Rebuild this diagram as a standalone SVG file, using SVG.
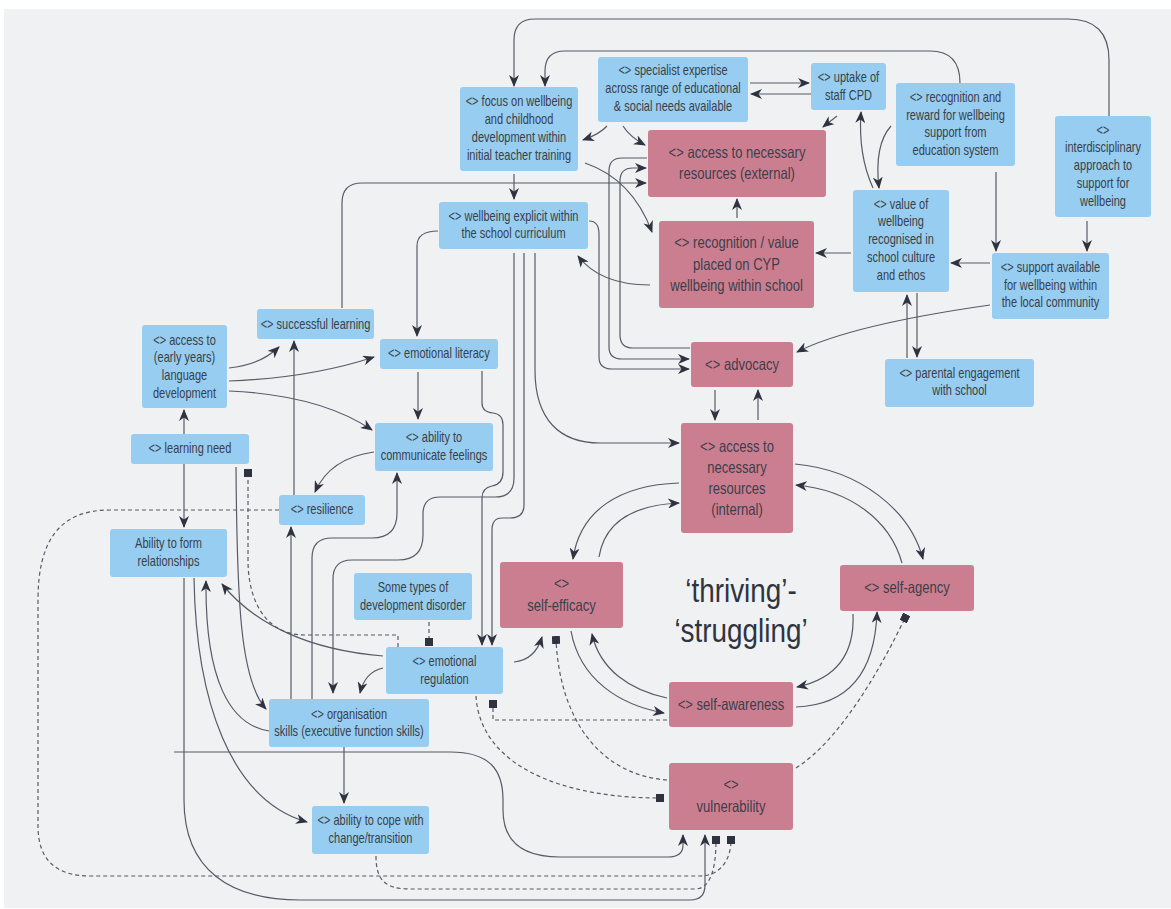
<svg xmlns="http://www.w3.org/2000/svg" width="1171" height="909" viewBox="0 0 1171 909">
<style>
.bg{fill:#f0f1f3}
.n rect{fill:#97cdf0}
.p rect{fill:#cc7e91}
text{font-family:"Liberation Sans",Arial,sans-serif;fill:#3b3f49;text-anchor:middle}
.n text{font-size:13.8px}
.p text{font-size:16.3px}
.big{font-size:34px;fill:#2f3440}
.c path{fill:none;stroke:#575b67;stroke-width:1.2}
.c path.a{marker-end:url(#ar)}
.c path.d{stroke-dasharray:4 3;marker-end:url(#sq)}
</style>
<defs>
<marker id="ar" viewBox="0 0 12 10" refX="11" refY="5" markerWidth="12" markerHeight="10" markerUnits="userSpaceOnUse" orient="auto"><path d="M0,0 L12,5 L0,10 L3.5,5 Z" fill="#2f3340"/></marker>
<marker id="sq" viewBox="0 0 8 8" refX="4" refY="4" markerWidth="8" markerHeight="8" markerUnits="userSpaceOnUse" orient="auto"><rect width="8" height="8" fill="#2f3340"/></marker>
</defs>
<rect class="bg" x="4" y="9" width="1167" height="899"/>

<g class="c" id="connectors">
<path class="a" d="M1109,116 V60 Q1109,19 1068,19 H535 Q514,19 514,40 V86"/>
<path class="a" d="M960,83 Q960,51 930,51 H565 Q545,51 545,71 V86"/>
<path class="a" d="M750,83 H809"/>
<path class="a" d="M811,94 H751"/>
<path class="a" d="M607,126 Q600,134 583,140"/>
<path class="a" d="M623,126 Q630,137 645,145"/>
<path class="a" d="M837,116 L823,127"/>
<path class="a" d="M873,188 Q858,155 861,112"/>
<path class="a" d="M891,126 Q874,145 879,188"/>
<path class="a" d="M996,172 V251"/>
<path class="a" d="M1087,221 V251"/>
<path class="a" d="M990,263 H951"/>
<path class="a" d="M851,253 H816"/>
<path class="a" d="M737,218 V199"/>
<path class="a" d="M650,285 Q600,285 578,256"/>
<path class="a" d="M585,163 C620,175 640,200 652,232"/>
<path class="a" d="M514,174 V199"/>
<path class="a" d="M342,308 V203 Q342,183 362,183 H646"/>
<path class="a" d="M647,158 H622 Q609,158 609,171 V347 Q609,359 622,359 H689"/>
<path class="a" d="M690,348 H633 Q620,348 620,335 V181 Q620,168 633,168 H646"/>
<path class="a" d="M589,221 Q599,221 599,234 V357 Q599,369 612,369 H689"/>
<path class="a" d="M535,253 V370 C535,420 560,443 600,443 H679"/>
<path class="a" d="M524,253 V505 Q524,518 510,518 H502 Q492,518 492,530 V645"/>
<path class="a" d="M482,371 V403 Q482,412 493,413 Q503,414 503,425 V472 Q503,484 492,486 Q482,488 482,498 V645"/>
<path class="a" d="M514,253 V478 Q514,497 495,497 H440 Q423,497 423,514 V535 Q423,560 398,560 H352 Q333,560 333,579 V693"/>
<path class="a" d="M312,699 V558 Q312,538 332,538 H372 Q397,538 397,513 V473"/>
<path class="a" d="M291,699 V527"/>
<path class="a" d="M294,495 V341"/>
<path class="a" d="M374,452 Q330,458 315,492"/>
<path class="a" d="M229,368 Q260,365 279,347"/>
<path class="a" d="M229,381 Q310,378 374,357"/>
<path class="a" d="M229,391 Q320,395 372,430"/>
<path class="a" d="M438,231 Q417,231 417,246 V336"/>
<path class="a" d="M418,372 V419"/>
<path class="a" d="M184,434 V410"/>
<path class="a" d="M184,464 V527"/>
<path class="a" d="M236,467 C237,600 240,680 266,709"/>
<path class="d" d="M398,647 V635 H305 C265,635 248,600 248,560 V473"/>
<path class="d" d="M429,622 V642"/>
<path class="a" d="M383,656 C310,650 255,625 222,584"/>
<path class="a" d="M383,668 Q365,672 360,693"/>
<path class="a" d="M269,731 C230,725 205,680 206,581"/>
<path class="a" d="M194,578 C196,700 230,800 307,822"/>
<path class="a" d="M184,578 V800 C184,870 230,900 300,900 H690 Q705,900 705,885 V835"/>
<path class="a" d="M174,752 H450 C490,752 503,770 503,800 V810 C503,840 520,857 560,857 H668 Q683,857 683,845 V835"/>
<path class="a" d="M344,747 V803"/>
<path class="d" d="M279,510 H110 C60,510 38,540 38,600 V826 Q38,876 90,876 H700 C720,876 731,860 731,840"/>
<path class="d" d="M376,856 C376,880 385,889 410,889 H695 C710,889 716,870 716,840"/>
<path class="a" d="M514,662 Q535,660 542,637"/>
<path class="d" d="M667,780 C600,775 560,720 556,640"/>
<path class="d" d="M476,696 C480,765 560,798 660,798"/>
<path class="d" d="M667,720 H493 V704"/>
<path class="a" d="M571,631 C580,680 620,705 664,713"/>
<path class="a" d="M667,698 C630,690 600,670 592,634"/>
<path class="a" d="M679,483 C620,485 580,510 573,559"/>
<path class="a" d="M599,557 C605,520 635,505 679,503"/>
<path class="a" d="M795,464 C860,470 910,510 923,559"/>
<path class="a" d="M902,563 C890,520 850,490 796,485"/>
<path class="a" d="M853,614 C855,660 830,680 797,687"/>
<path class="a" d="M796,707 C850,705 875,670 877,612"/>
<path class="d" d="M796,768 C840,740 880,670 905,618"/>
<path class="a" d="M715,390 V420"/>
<path class="a" d="M758,420 V390"/>
<path class="a" d="M990,305 C920,315 840,330 797,352"/>
<path class="a" d="M907,358 V295"/>
<path class="a" d="M917,293 V357"/>
</g>

<g class="n" id="focus"><rect x="460" y="87" width="118" height="84" rx="3"/><g transform="matrix(.8 0 0 1 519 0)"><text y="106.5">&lt;&gt; focus on wellbeing</text><text y="124">and childhood</text><text y="142">development within</text><text y="160">initial teacher training</text></g></g>
<g class="n" id="specialist"><rect x="598" y="57" width="150" height="65" rx="3"/><g transform="matrix(.8 0 0 1 673 0)"><text y="75.5">&lt;&gt; specialist expertise</text><text y="93.5">across range of educational</text><text y="111">&amp; social needs available</text></g></g>
<g class="p" id="external"><rect x="648" y="130" width="178" height="67" rx="3"/><g transform="matrix(.8 0 0 1 737 0)"><text y="158.5">&lt;&gt; access to necessary</text><text y="179">resources (external)</text></g></g>
<g class="p" id="recogvalue"><rect x="659" y="221" width="155" height="87" rx="3"/><g transform="matrix(.8 0 0 1 736.5 0)"><text y="248.5">&lt;&gt; recognition / value</text><text y="270">placed on CYP</text><text y="291">wellbeing within school</text></g></g>
<g class="n" id="uptake"><rect x="811" y="63" width="75" height="47" rx="3"/><g transform="matrix(.8 0 0 1 848.5 0)"><text y="82.5">&lt;&gt; uptake of</text><text y="100">staff CPD</text></g></g>
<g class="n" id="reward"><rect x="896" y="83" width="119" height="83" rx="3"/><g transform="matrix(.8 0 0 1 955.5 0)"><text y="102.5">&lt;&gt; recognition and</text><text y="120">reward for wellbeing</text><text y="137.5">support from</text><text y="155">education system</text></g></g>
<g class="n" id="interdisciplinary"><rect x="1055" y="116" width="96" height="101" rx="3"/><g transform="matrix(.8 0 0 1 1103 0)"><text y="135">&lt;&gt;</text><text y="152.5">interdisciplinary</text><text y="170.5">approach to</text><text y="188.5">support for</text><text y="206">wellbeing</text></g></g>
<g class="n" id="valueculture"><rect x="853" y="190" width="96" height="102" rx="3"/><g transform="matrix(.8 0 0 1 901 0)"><text y="209.5">&lt;&gt; value of</text><text y="226.5">wellbeing</text><text y="244.5">recognised in</text><text y="262.5">school culture</text><text y="280">and ethos</text></g></g>
<g class="n" id="support"><rect x="992" y="253" width="117" height="66" rx="3"/><g transform="matrix(.8 0 0 1 1050.5 0)"><text y="272.5">&lt;&gt; support available</text><text y="290">for wellbeing within</text><text y="307.5">the local community</text></g></g>
<g class="n" id="parental"><rect x="885" y="359" width="149" height="48" rx="3"/><g transform="matrix(.8 0 0 1 959.5 0)"><text y="378.5">&lt;&gt; parental engagement</text><text y="395.5">with school</text></g></g>
<g class="p" id="advocacy"><rect x="691" y="342" width="102" height="45" rx="3"/><g transform="matrix(.8 0 0 1 742 0)"><text y="370">&lt;&gt; advocacy</text></g></g>
<g class="p" id="internal"><rect x="681" y="423" width="112" height="110" rx="3"/><g transform="matrix(.8 0 0 1 737 0)"><text y="452">&lt;&gt; access to</text><text y="473.5">necessary</text><text y="494.5">resources</text><text y="515.5">(internal)</text></g></g>
<g class="n" id="curriculum"><rect x="439" y="202" width="149" height="47" rx="3"/><g transform="matrix(.8 0 0 1 513.5 0)"><text y="221">&lt;&gt; wellbeing explicit within</text><text y="238.5">the school curriculum</text></g></g>
<g class="n" id="successful"><rect x="257" y="309" width="117" height="30" rx="3"/><g transform="matrix(.8 0 0 1 315.5 0)"><text y="329">&lt;&gt; successful learning</text></g></g>
<g class="n" id="language"><rect x="142" y="325" width="85" height="83" rx="3"/><g transform="matrix(.8 0 0 1 184.5 0)"><text y="345">&lt;&gt; access to</text><text y="362.5">(early years)</text><text y="380.5">language</text><text y="398">development</text></g></g>
<g class="n" id="literacy"><rect x="380" y="339" width="118" height="30" rx="3"/><g transform="matrix(.8 0 0 1 439 0)"><text y="358.5">&lt;&gt; emotional literacy</text></g></g>
<g class="n" id="communicate"><rect x="375" y="423" width="118" height="48" rx="3"/><g transform="matrix(.8 0 0 1 434 0)"><text y="442.5">&lt;&gt; ability to</text><text y="460">communicate feelings</text></g></g>
<g class="n" id="learningneed"><rect x="131" y="434" width="118" height="30" rx="3"/><g transform="matrix(.8 0 0 1 190 0)"><text y="453.5">&lt;&gt; learning need</text></g></g>
<g class="n" id="resilience"><rect x="279" y="495" width="86" height="30" rx="3"/><g transform="matrix(.8 0 0 1 322 0)"><text y="514.5">&lt;&gt; resilience</text></g></g>
<g class="n" id="relationships"><rect x="110" y="529" width="117" height="48" rx="3"/><g transform="matrix(.8 0 0 1 168.5 0)"><text y="548.5">Ability to form</text><text y="566">relationships</text></g></g>
<g class="n" id="disorder"><rect x="354" y="573" width="118" height="47" rx="3"/><g transform="matrix(.8 0 0 1 413 0)"><text y="592.5">Some types of</text><text y="610">development disorder</text></g></g>
<g class="n" id="regulation"><rect x="386" y="647" width="117" height="47" rx="3"/><g transform="matrix(.8 0 0 1 444.5 0)"><text y="666.5">&lt;&gt; emotional</text><text y="684.5">regulation</text></g></g>
<g class="n" id="organisation"><rect x="269" y="699" width="160" height="48" rx="3"/><g transform="matrix(.8 0 0 1 349 0)"><text y="719">&lt;&gt; organisation</text><text y="736.5">skills (executive function skills)</text></g></g>
<g class="n" id="cope"><rect x="312" y="806" width="117" height="48" rx="3"/><g transform="matrix(.8 0 0 1 370.5 0)"><text y="825.5">&lt;&gt; ability to cope with</text><text y="843">change/transition</text></g></g>
<g class="p" id="efficacy"><rect x="500" y="562" width="123" height="66" rx="3"/><g transform="matrix(.8 0 0 1 561.5 0)"><text y="589.5">&lt;&gt;</text><text y="611">self-efficacy</text></g></g>
<g class="p" id="agency"><rect x="840" y="565" width="134" height="46" rx="3"/><g transform="matrix(.8 0 0 1 907 0)"><text y="593.5">&lt;&gt; self-agency</text></g></g>
<g class="p" id="awareness"><rect x="669" y="682" width="124" height="45" rx="3"/><g transform="matrix(.8 0 0 1 731 0)"><text y="710">&lt;&gt; self-awareness</text></g></g>
<g class="p" id="vulnerability"><rect x="669" y="763" width="124" height="67" rx="3"/><g transform="matrix(.8 0 0 1 731 0)"><text y="790.5">&lt;&gt;</text><text y="812.5">vulnerability</text></g></g>
<g id="title" transform="matrix(.82 0 0 1 741 0)"><text class="big" y="602">‘thriving’-</text><text class="big" y="642">‘struggling’</text></g>
</svg>
